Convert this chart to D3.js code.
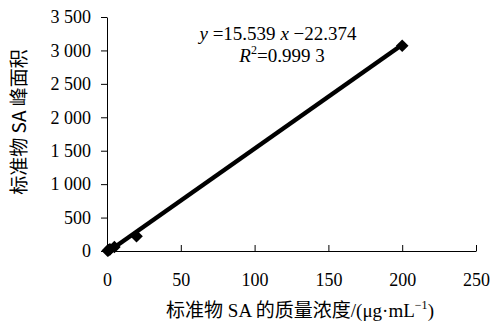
<!DOCTYPE html>
<html><head><meta charset="utf-8">
<script src="https://cdn.jsdelivr.net/npm/d3@7"></script>
<style>body{margin:0;background:#fff}svg{display:block}</style>
</head><body>
<svg id="c" width="494" height="323"></svg>
<script>
const xVals = [0.5, 1, 2, 5, 20, 200];
const yVals = [5, 12, 25, 60, 220, 3070];
const xTicks = [0, 50, 100, 150, 200, 250];
const yTicks = [0, 500, 1000, 1500, 2000, 2500, 3000, 3500];
const slope = 15.539, intercept = -22.374;
const fitRange = [0, 200];

const svg = d3.select("#c");
const x = d3.scaleLinear().domain([0, 250]).range([107, 476]);
const y = d3.scaleLinear().domain([0, 3500]).range([251, 17]);
const serif = "'Liberation Serif','Times New Roman',serif";
const cjk = "'Noto Sans CJK SC',sans-serif";
const fmt = v => v >= 1000 ? Math.floor(v/1000) + " " + String(v%1000).padStart(3,"0") : String(v);

// x axis
const xa = svg.append("g").attr("transform", "translate(0," + y(0) + ")")
  .call(d3.axisBottom(x).tickValues(xTicks).tickSize(-6).tickSizeOuter(0).tickPadding(22).tickFormat(d => d));
xa.select(".domain").attr("stroke", "#000");
xa.selectAll("text").attr("font-family", serif).attr("font-size", 18).attr("fill", "#000");

// y axis
const ya = svg.append("g").attr("transform", "translate(" + x(0) + ",0)")
  .call(d3.axisLeft(y).tickValues(yTicks).tickSize(6).tickSizeOuter(0).tickPadding(10).tickFormat(fmt));
ya.select(".domain").attr("stroke", "#000");
ya.selectAll("text").attr("font-family", serif).attr("font-size", 18).attr("fill", "#000");

// fit line
svg.append("line")
  .attr("x1", x(fitRange[0])).attr("y1", y(slope*fitRange[0] + intercept))
  .attr("x2", x(fitRange[1])).attr("y2", y(slope*fitRange[1] + intercept))
  .attr("stroke", "#000").attr("stroke-width", 4.5);

// points
const sym = d3.symbol().type(d3.symbolSquare).size(80);
svg.append("g").selectAll("path").data(xVals.map((v, i) => [v, yVals[i]])).join("path")
  .attr("d", sym)
  .attr("transform", d => "translate(" + x(d[0]) + "," + y(d[1]) + ") rotate(45)")
  .attr("fill", "#000");

// equation
const eq = svg.append("text").attr("x", 278).attr("y", 40).attr("text-anchor", "middle")
  .attr("font-family", serif).attr("font-size", 19);
eq.append("tspan").attr("font-style", "italic").text("y");
eq.append("tspan").text(" =15.539 ");
eq.append("tspan").attr("font-style", "italic").text("x");
eq.append("tspan").text(" \u221222.374");

const r2 = svg.append("text").attr("x", 282).attr("y", 62).attr("text-anchor", "middle")
  .attr("font-family", serif).attr("font-size", 19);
r2.append("tspan").attr("font-style", "italic").text("R");
r2.append("tspan").attr("font-size", 12).attr("dy", -8).text("2");
r2.append("tspan").attr("dy", 8).text("=0.999 3");

// y title
svg.append("text").attr("transform", "translate(17,122) rotate(-90)").attr("text-anchor", "middle")
  .attr("dominant-baseline", "central")
  .attr("font-family", cjk).attr("font-size", 19)
  .text("标准物 SA 峰面积");

// x title
const xt = svg.append("text").attr("x", 300).attr("y", 317).attr("text-anchor", "middle")
  .attr("font-family", serif).attr("font-size", 19);
xt.append("tspan").attr("font-family", cjk).text("标准物");
xt.append("tspan").text(" SA ");
xt.append("tspan").attr("font-family", cjk).text("的质量浓度");
xt.append("tspan").text("/(μg·mL");
xt.append("tspan").attr("font-size", 12).attr("dy", -8).text("\u22121");
xt.append("tspan").attr("dy", 8).text(")");
</script>
</body></html>
